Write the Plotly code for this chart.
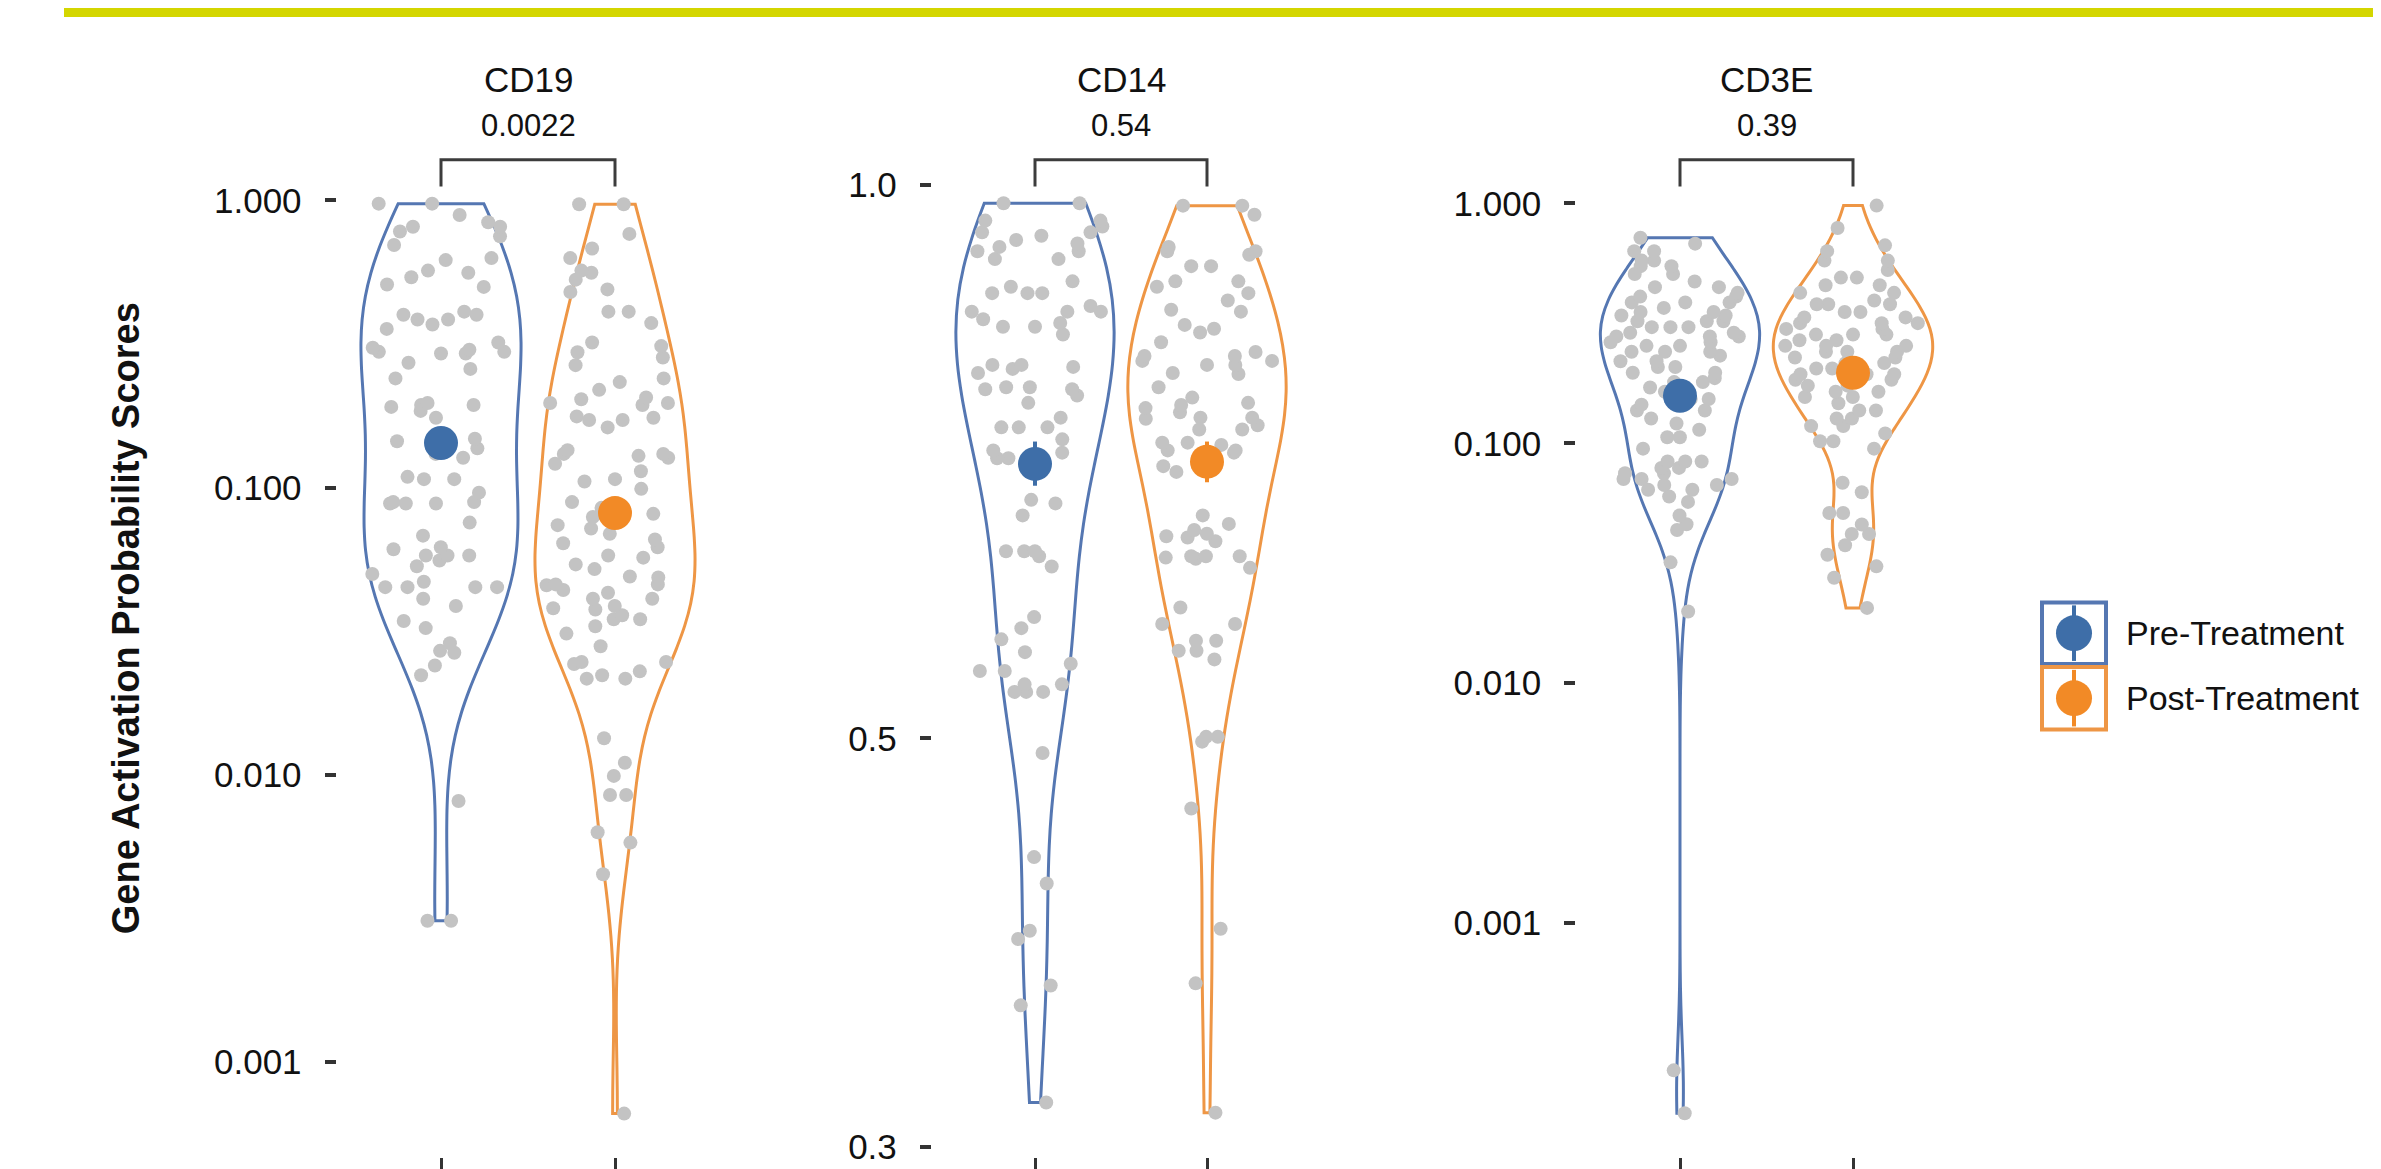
import numpy as np
import plotly.graph_objects as go

W, H = 2381, 1169

# ---------------- data ----------------
genes = ["CD19", "CD14", "CD3E"]
p_values = ["0.0022", "0.54", "0.39"]
groups = ["Pre-Treatment", "Post-Treatment"]

cd19_pre = [0.975, 0.975, 0.89, 0.84, 0.81, 0.81, 0.78, 0.75, 0.70, 0.63, 0.62, 0.57, 0.56, 0.54,
            0.51, 0.50, 0.41, 0.40, 0.40, 0.385, 0.385, 0.37, 0.357, 0.32, 0.307, 0.302, 0.297,
            0.297, 0.293, 0.293, 0.272, 0.259, 0.240, 0.197, 0.194, 0.194, 0.191, 0.185, 0.175,
            0.148, 0.145, 0.137, 0.131, 0.127, 0.109, 0.107, 0.107, 0.096, 0.089, 0.089, 0.088,
            0.088, 0.088, 0.0755, 0.068, 0.062, 0.061, 0.058, 0.058, 0.058, 0.0557, 0.0532, 0.050,
            0.047, 0.045, 0.045, 0.045, 0.045, 0.041, 0.0387, 0.0343, 0.0324, 0.0287, 0.027,
            0.0266, 0.024, 0.0222, 0.0081, 0.0031, 0.0031]
cd19_post = [0.97, 0.97, 0.765, 0.68, 0.63, 0.57, 0.56, 0.53, 0.49, 0.48, 0.41, 0.41,
             0.374, 0.32, 0.311, 0.296, 0.284, 0.267, 0.24, 0.233, 0.219, 0.206, 0.203, 0.197,
             0.197, 0.194, 0.177, 0.175, 0.172, 0.172, 0.162, 0.135, 0.131, 0.131, 0.129, 0.127,
             0.121, 0.114, 0.107, 0.105, 0.099, 0.089, 0.085, 0.081, 0.079, 0.074, 0.072, 0.069,
             0.066, 0.064, 0.062, 0.058, 0.057, 0.054, 0.052, 0.049, 0.0486, 0.0457, 0.044, 0.043,
             0.046, 0.046, 0.041, 0.041, 0.0387, 0.038, 0.0376, 0.0359, 0.0348, 0.0348, 0.0329,
             0.031, 0.028, 0.0247, 0.0247, 0.0243, 0.0229, 0.0222, 0.0216, 0.0216, 0.0134, 0.011,
             0.0099, 0.0085, 0.0085, 0.0063, 0.0058, 0.0045, 0.00066]
cd14_pre = [0.977, 0.977, 0.956, 0.956, 0.949, 0.942, 0.942, 0.938, 0.933, 0.929, 0.925, 0.920,
            0.920, 0.911, 0.911, 0.886, 0.880, 0.873, 0.873, 0.873, 0.859, 0.853, 0.853, 0.853,
            0.845, 0.841, 0.837, 0.837, 0.829, 0.798, 0.798, 0.796, 0.794, 0.790, 0.776, 0.776,
            0.774, 0.774, 0.768, 0.761, 0.747, 0.738, 0.738, 0.738, 0.727, 0.717, 0.715, 0.710,
            0.710, 0.674, 0.671, 0.661, 0.632, 0.632, 0.632, 0.628, 0.620, 0.582, 0.574, 0.566,
            0.557, 0.549, 0.544, 0.544, 0.535, 0.535, 0.530, 0.530, 0.530, 0.491, 0.431, 0.417,
            0.393, 0.389, 0.367, 0.358, 0.317]
cd14_post = [0.974, 0.974, 0.963, 0.925, 0.920, 0.920, 0.916, 0.903, 0.903, 0.886, 0.886, 0.880,
             0.873, 0.865, 0.855, 0.853, 0.839, 0.835, 0.831, 0.821, 0.811, 0.807, 0.807, 0.802,
             0.802, 0.798, 0.798, 0.790, 0.789, 0.776, 0.766, 0.761, 0.759, 0.756, 0.752, 0.747,
             0.747, 0.746, 0.740, 0.736, 0.736, 0.724, 0.724, 0.722, 0.717, 0.717, 0.715, 0.703,
             0.698, 0.661, 0.654, 0.649, 0.646, 0.644, 0.643, 0.640, 0.628, 0.628, 0.628, 0.627,
             0.626, 0.619, 0.589, 0.577, 0.577, 0.565, 0.565, 0.558, 0.558, 0.552, 0.501, 0.501,
             0.498, 0.458, 0.394, 0.368, 0.313]
cd3e_pre = [0.72, 0.68, 0.633, 0.633, 0.578, 0.578, 0.548, 0.548, 0.508, 0.508, 0.473, 0.448,
            0.448, 0.424, 0.409, 0.409, 0.387, 0.387, 0.387, 0.367, 0.353, 0.353, 0.341, 0.341,
            0.323, 0.323, 0.323, 0.305, 0.305, 0.305, 0.289, 0.289, 0.279, 0.279, 0.279, 0.264,
            0.264, 0.255, 0.255, 0.241, 0.241, 0.241, 0.232, 0.220, 0.220, 0.208, 0.208, 0.197,
            0.197, 0.187, 0.180, 0.180, 0.171, 0.164, 0.153, 0.153, 0.145, 0.137, 0.137, 0.127,
            0.121, 0.114, 0.106, 0.106, 0.095, 0.084, 0.084, 0.084, 0.079, 0.079, 0.075, 0.075,
            0.071, 0.071, 0.071, 0.067, 0.067, 0.064, 0.064, 0.060, 0.057, 0.050, 0.046, 0.0435,
            0.0319, 0.0199, 0.000243, 0.000161]
cd3e_post = [0.98, 0.79, 0.669, 0.633, 0.578, 0.578, 0.528, 0.491, 0.491, 0.456, 0.456, 0.424,
             0.424, 0.394, 0.380, 0.380, 0.380, 0.353, 0.353, 0.335, 0.335, 0.317, 0.317, 0.317,
             0.300, 0.300, 0.284, 0.284, 0.284, 0.269, 0.269, 0.255, 0.255, 0.255, 0.241, 0.241,
             0.241, 0.228, 0.228, 0.216, 0.216, 0.205, 0.205, 0.194, 0.194, 0.194, 0.184, 0.184,
             0.174, 0.174, 0.164, 0.164, 0.156, 0.156, 0.147, 0.137, 0.137, 0.127, 0.127, 0.118,
             0.118, 0.110, 0.102, 0.102, 0.095, 0.0685, 0.0625, 0.0512, 0.0512, 0.0459, 0.0419,
             0.0419, 0.0376, 0.0343, 0.0307, 0.0275, 0.0206]

# group summary (centre dot) and its interval, per gene
mean_pre = [0.143, 0.705, 0.158]
mean_post = [0.0815, 0.707, 0.197]
ci_pre_low = [0.13, 0.686, 0.145]
ci_pre_high = [0.157, 0.725, 0.172]
ci_post_low = [0.074, 0.689, 0.182]
ci_post_high = [0.089, 0.725, 0.213]

tick_vals_cd19 = [1.0, 0.1, 0.01, 0.001]
tick_text_cd19 = ["1.000", "0.100", "0.010", "0.001"]
tick_vals_cd14 = [1.0, 0.5, 0.3]
tick_text_cd14 = ["1.0", "0.5", "0.3"]
tick_vals_cd3e = [1.0, 0.1, 0.01, 0.001]
tick_text_cd3e = ["1.000", "0.100", "0.010", "0.001"]

# ---------------- style ----------------
BLUE_LINE = "#5577b2"
ORANGE_LINE = "#ee9645"
BLUE_DOT = "#3e6ea8"
ORANGE_DOT = "#f28a26"
POINT = "#c3c3c3"
TXT = "#111111"
FONT = "Liberation Sans"


def px_x(p):
    return p / W


def px_y(p):
    return 1 - p / H


panels = [
    dict(gene=genes[0], p=p_values[0], pre=cd19_pre, post=cd19_post,
         tv=tick_vals_cd19, tt=tick_text_cd19, xdom=(328.6, 711.4), yr=(-3.332, 0.152)),
    dict(gene=genes[1], p=p_values[1], pre=cd14_pre, post=cd14_post,
         tv=tick_vals_cd14, tt=tick_text_cd14, xdom=(923.8, 1302.2), yr=(-0.5286, 0.0151)),
    dict(gene=genes[2], p=p_values[2], pre=cd3e_pre, post=cd3e_post,
         tv=tick_vals_cd3e, tt=tick_text_cd3e, xdom=(1568.2, 1948.8), yr=(-3.976, 0.1945)),
]

fig = go.Figure()
layout_axes = {}
shapes = []
annotations = []

PLOT_TOP, PLOT_BOT = 150, 1158

for i, pn in enumerate(panels):
    sfx = "" if i == 0 else str(i + 1)
    xa, ya = "x" + sfx, "y" + sfx
    for k, (vals, lc) in enumerate([(pn["pre"], BLUE_LINE), (pn["post"], ORANGE_LINE)]):
        fig.add_trace(go.Violin(
            x=[k] * len(vals), y=np.log10(vals), xaxis=xa, yaxis=ya,
            name=groups[k], legendgroup=groups[k], showlegend=False,
            line=dict(color=lc, width=3), fillcolor="rgba(255,255,255,0)",
            points="all", jitter=1.0, pointpos=0,
            marker=dict(color=POINT, size=14, line=dict(width=0)),
            spanmode="hard", scalegroup=pn["gene"], scalemode="width", width=0.92,
            box_visible=False, meanline_visible=False, hoveron="points",
        ))
    for k, (m, lo, hi, col) in enumerate([
        (mean_pre[i], ci_pre_low[i], ci_pre_high[i], BLUE_DOT),
        (mean_post[i], ci_post_low[i], ci_post_high[i], ORANGE_DOT),
    ]):
        fig.add_trace(go.Scatter(
            x=[k], y=[np.log10(m)], xaxis=xa, yaxis=ya, mode="markers",
            marker=dict(size=34, color=col), showlegend=False, name=groups[k],
            error_y=dict(type="data", symmetric=False,
                         array=[np.log10(hi) - np.log10(m)],
                         arrayminus=[np.log10(m) - np.log10(lo)],
                         color=col, thickness=4, width=0),
        ))

    layout_axes["xaxis" + sfx] = dict(
        domain=[px_x(pn["xdom"][0]), px_x(pn["xdom"][1])], range=[-0.6, 1.6],
        anchor=ya, tickvals=[0, 1], showticklabels=False, ticks="outside",
        ticklen=14, tickwidth=3, tickcolor="#333333",
        showgrid=False, zeroline=False, showline=False, fixedrange=True,
    )
    layout_axes["yaxis" + sfx] = dict(
        domain=[px_y(PLOT_BOT), px_y(PLOT_TOP)], range=list(pn["yr"]), anchor=xa,
        tickvals=list(np.log10(pn["tv"])), ticktext=pn["tt"], ticks="outside",
        ticklen=11, tickwidth=4, tickcolor="#333333", ticklabelstandoff=16,
        tickfont=dict(family=FONT, size=35, color=TXT),
        showgrid=False, zeroline=False, showline=False, fixedrange=True,
    )

    # gene title and p-value
    annotations.append(dict(x=0.5, y=px_y(72), xref=xa, yref="paper", text=pn["gene"],
                            showarrow=False, font=dict(family=FONT, size=35, color=TXT),
                            xanchor="center", yanchor="middle"))
    annotations.append(dict(x=0.5, y=px_y(118), xref=xa, yref="paper", text=pn["p"],
                            showarrow=False, font=dict(family=FONT, size=31, color=TXT),
                            xanchor="center", yanchor="middle"))
    # significance bracket
    shapes.append(dict(type="path", xref=xa, yref="paper",
                       path=f"M 0,{px_y(180)} L 0,{px_y(153)} L 1,{px_y(153)} L 1,{px_y(180)}",
                       line=dict(color="#3c3c3c", width=3)))

# top accent line
shapes.append(dict(type="rect", xref="paper", yref="paper", x0=px_x(56), x1=1.0,
                   y0=px_y(9), y1=1.0, fillcolor="#d4d600", line=dict(width=0), layer="above"))

# legend (custom glyphs)
leg_items = [(groups[0], BLUE_LINE, BLUE_DOT, 599, 661), (groups[1], ORANGE_LINE, ORANGE_DOT, 664, 727)]
for name, lc, dc, y0, y1 in leg_items:
    x0, x1 = 2034, 2098
    cx, cy = (x0 + x1) / 2, (y0 + y1) / 2
    shapes.append(dict(type="rect", xref="paper", yref="paper", x0=px_x(x0), x1=px_x(x1),
                       y0=px_y(y1), y1=px_y(y0), line=dict(color=lc, width=4),
                       fillcolor="rgba(255,255,255,0)"))
    shapes.append(dict(type="line", xref="paper", yref="paper", x0=px_x(cx), x1=px_x(cx),
                       y0=px_y(y1 - 3), y1=px_y(y0 + 3), line=dict(color=dc, width=4)))
    shapes.append(dict(type="circle", xref="paper", yref="paper", x0=px_x(cx - 18), x1=px_x(cx + 18),
                       y0=px_y(cy + 18), y1=px_y(cy - 18), fillcolor=dc, line=dict(width=0)))
    annotations.append(dict(x=px_x(2116), y=px_y(cy), xref="paper", yref="paper", text=name,
                            showarrow=False, xanchor="left", yanchor="middle",
                            font=dict(family=FONT, size=34, color=TXT)))

# y-axis title
annotations.append(dict(x=px_x(118), y=px_y(615), xref="paper", yref="paper",
                        text="<b>Gene Activation Probability Scores</b>", textangle=-90,
                        showarrow=False, xanchor="center", yanchor="middle",
                        font=dict(family=FONT, size=38, color=TXT)))

fig.update_layout(
    width=W, height=H, margin=dict(l=0, r=0, t=0, b=0),
    paper_bgcolor="white", plot_bgcolor="white",
    violinmode="overlay", showlegend=False,
    shapes=shapes, annotations=annotations,
    **layout_axes,
)

fig.write_html("out.html")
